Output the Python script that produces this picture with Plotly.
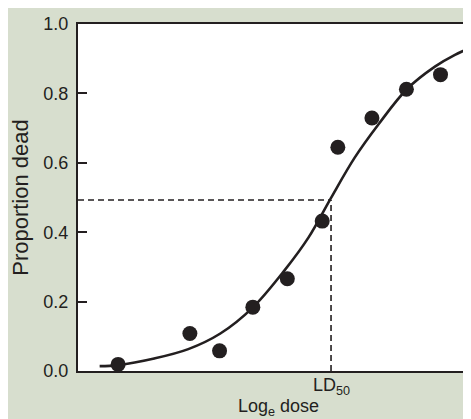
import plotly.graph_objects as go

# Observed data (log dose, proportion dead)
dose = [1.00, 2.79, 3.53, 4.36, 5.22, 6.09, 6.48, 7.33, 8.19, 9.04, 9.85]
dead = [0.019, 0.108, 0.058, 0.184, 0.266, 0.432, 0.645, 0.729, 0.812, 0.854, 0.897]

# Fitted curve
curve_dose = [0.54, 1.00, 1.90, 2.75, 3.55, 4.35, 5.15, 5.75, 6.30, 6.90, 7.50, 8.20, 8.90, 9.40, 10.0]
curve_dead = [0.014, 0.017, 0.036, 0.063, 0.108, 0.182, 0.290, 0.385, 0.497, 0.615, 0.712, 0.812, 0.877, 0.911, 0.942]

# LD50 reference
ld50_dose = 6.31
ld50_level = 0.493

y_ticks = [0.0, 0.2, 0.4, 0.6, 0.8, 1.0]
y_tick_labels = ["0.0", "0.2", "0.4", "0.6", "0.8", "1.0"]

INK = "#231f20"
BG = "#d7dece"
FONT = "Liberation Sans, Arial, sans-serif"

fig = go.Figure()

fig.add_trace(go.Scatter(
    x=[0, ld50_dose], y=[ld50_level, ld50_level], mode="lines",
    line=dict(color=INK, width=1.6, dash="6px,4px"), hoverinfo="skip"))
fig.add_trace(go.Scatter(
    x=[ld50_dose, ld50_dose], y=[0, ld50_level], mode="lines",
    line=dict(color=INK, width=1.6, dash="6px,4px"), hoverinfo="skip"))

fig.add_trace(go.Scatter(
    x=curve_dose, y=curve_dead, mode="lines",
    line=dict(color=INK, width=2.6, shape="spline", smoothing=1.0)))

fig.add_trace(go.Scatter(
    x=dose, y=dead, mode="markers",
    marker=dict(color=INK, size=15, line=dict(width=0)), cliponaxis=False))

fig.add_annotation(
    x=ld50_dose, xref="x", y=0, yref="paper", yanchor="middle", yshift=-15,
    text="LD<sub>50</sub>", showarrow=False, font=dict(size=18))
fig.add_annotation(
    x=0.5, xref="paper", y=0, yref="paper", yanchor="middle", yshift=-36,
    text="Log<sub>e</sub> dose", showarrow=False, font=dict(size=18))

fig.update_layout(
    width=471, height=419,
    margin=dict(l=70, r=0, t=16, b=56),
    paper_bgcolor=BG, plot_bgcolor="white",
    showlegend=False,
    font=dict(family=FONT, size=18, color=INK),
    xaxis=dict(
        range=[0, 10], showgrid=False, zeroline=False,
        showline=True, linecolor=INK, linewidth=2, mirror=True,
        ticks="", showticklabels=False,
    ),
    yaxis=dict(
        range=[0, 1.0], showgrid=False, zeroline=False,
        showline=True, linecolor=INK, linewidth=2,
        ticks="inside", ticklen=9, tickwidth=2, tickcolor=INK,
        tickvals=y_ticks, ticktext=y_tick_labels,
        ticklabelstandoff=4,
        title=dict(text="Proportion dead", standoff=10),
    ),
)

fig.write_html("out.html")
